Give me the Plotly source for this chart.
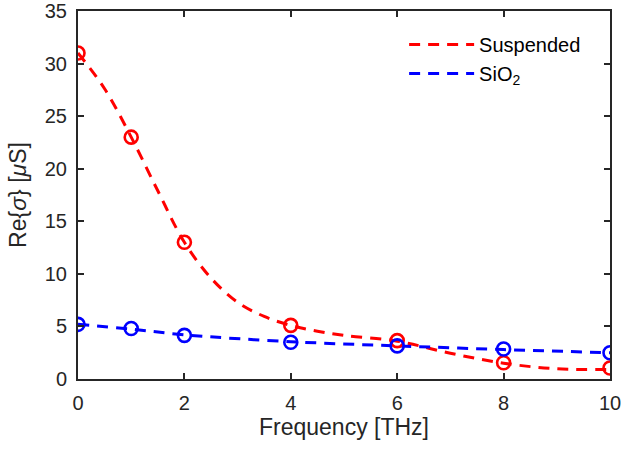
import plotly.graph_objects as go

# measured points
freq = [0, 1, 2, 4, 6, 8, 10]
susp = [31.0, 23.0, 13.0, 5.1, 3.65, 1.55, 1.05]
sio2 = [5.2, 4.8, 4.15, 3.5, 3.15, 2.85, 2.5]

# fit curves
fit_freq_s = [0, 0.5, 1, 1.5, 2, 2.5, 3, 3.5, 4, 4.5, 5, 6, 7, 8, 9, 10]
fit_susp = [31.0, 27.6, 23.0, 17.9, 13.0, 9.6, 7.3, 5.95, 5.1, 4.55, 4.15, 3.6, 2.45, 1.5, 0.97, 0.9]
fit_freq_o = [0, 1, 2, 4, 6, 8, 10]
fit_sio2 = [5.2, 4.75, 4.2, 3.55, 3.15, 2.8, 2.5]

RED = "#ff0000"
BLUE = "#0000ff"
INK = "#262626"

fig = go.Figure()

fig.add_trace(go.Scatter(x=fit_freq_s, y=fit_susp, mode="lines", name="Suspended",
                         line=dict(color=RED, width=3, dash="11px,8px", shape="spline")))
fig.add_trace(go.Scatter(x=fit_freq_o, y=fit_sio2, mode="lines", name="SiO<sub>2</sub>",
                         line=dict(color=BLUE, width=3, dash="11px,8px", shape="spline")))
fig.add_trace(go.Scatter(x=freq, y=susp, mode="markers", showlegend=False,
                         marker=dict(symbol="circle-open", size=13, color=RED,
                                     line=dict(width=2.6, color=RED))))
fig.add_trace(go.Scatter(x=freq, y=sio2, mode="markers", showlegend=False,
                         marker=dict(symbol="circle-open", size=13, color=BLUE,
                                     line=dict(width=2.6, color=BLUE))))

axis_common = dict(showline=True, linecolor=INK, linewidth=2, mirror="ticks",
                   ticks="inside", ticklen=6, tickwidth=1.5, tickcolor=INK,
                   showgrid=False, zeroline=False, automargin=False,
                   ticklabeloverflow="allow",
                   tickfont=dict(size=20, color=INK))

fig.update_xaxes(range=[0, 10], dtick=2, tick0=0, ticklabelstandoff=5,
                 title=dict(text="Frequency [THz]", font=dict(size=23, color=INK), standoff=6),
                 **axis_common)
fig.update_yaxes(range=[0, 35], dtick=5, tick0=0, ticklabelstandoff=5,
                 title=dict(text="Re{<i>σ</i>} [<i>μ</i>S]", font=dict(size=23, color=INK), standoff=12),
                 **axis_common)

fig.update_layout(
    template="none",
    width=622, height=456,
    margin=dict(l=78, r=12, t=11, b=77),
    plot_bgcolor="white", paper_bgcolor="white",
    font=dict(family="Liberation Sans, Arial, sans-serif", color=INK),
    showlegend=True,
    legend=dict(x=0.613, y=0.962, xanchor="left", yanchor="top",
                font=dict(size=20, color="black"), bgcolor="rgba(0,0,0,0)",
                itemwidth=65, tracegroupgap=0),
)

# drop the default 8px body margin so the figure sits at the page corner
fig.write_html("out.html", config={"displayModeBar": False},
               post_script="document.body.style.margin='0px';")
